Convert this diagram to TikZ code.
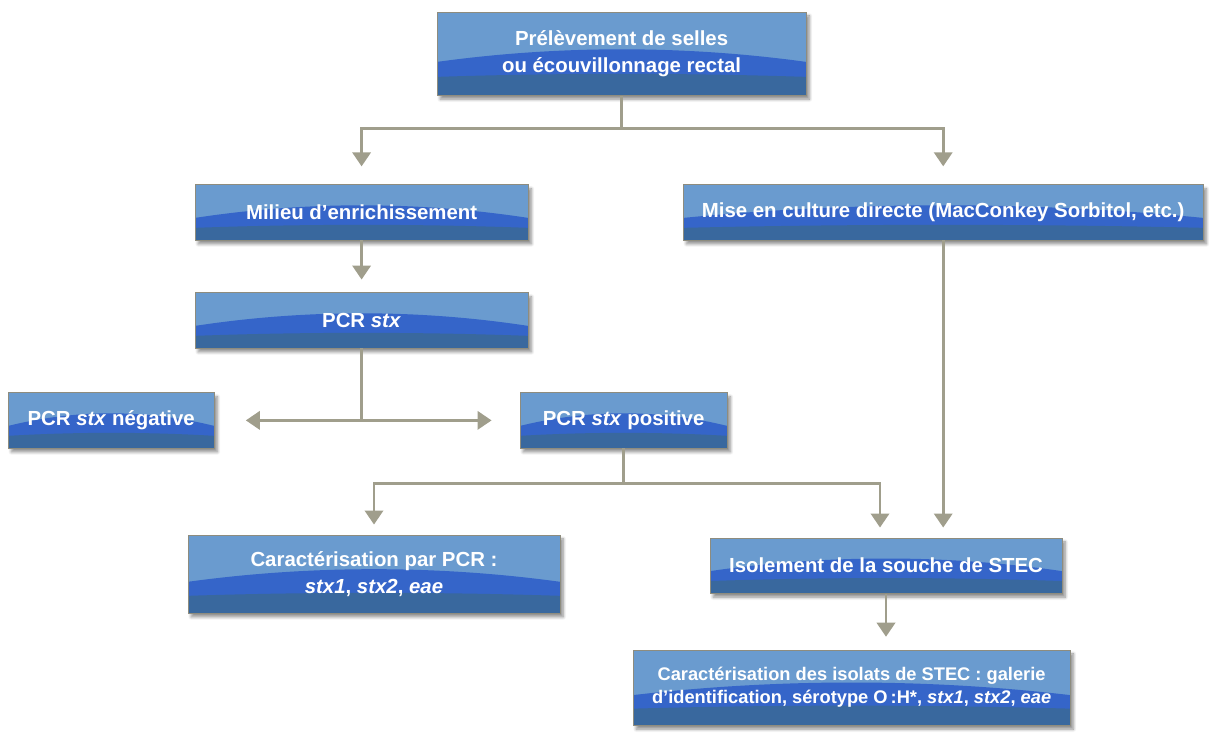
\documentclass[tikz,border=0pt]{standalone}
\usepackage{fontspec}
\setmainfont{Liberation Sans}
\usepackage{xcolor}
\usetikzlibrary{calc,arrows.meta,shadows.blur}

\definecolor{boxlight}{HTML}{6A9BCF}
\definecolor{boxband}{HTML}{3565C9}
\definecolor{boxbase}{HTML}{39689E}
\definecolor{boxedge}{HTML}{8E8C7E}
\definecolor{linkgray}{HTML}{A09E8C}

\tikzset{
  stepbox/.style={draw=boxedge, line width=0.6pt, fill=boxlight, text=white,
    font=\fontsize{14.5}{19.5}\selectfont\bfseries, align=center, inner sep=0pt,
    minimum height=1.38cm,
    blur shadow={shadow xshift=0.8mm, shadow yshift=-1mm, shadow blur steps=8, shadow opacity=45},
    path picture={
      \path (path picture bounding box.south west) coordinate (bsw)
            (path picture bounding box.north east) coordinate (bne);
      \path ($(bsw)!.4!(bsw|-bne)$) coordinate (bl)
            ($(bsw-|bne)!.4!(bne)$) coordinate (br)
            ($(bsw)!.22!(bsw|-bne)$) coordinate (dl)
            ($(bsw-|bne)!.22!(bne)$) coordinate (dr);
      \fill[boxband] (bl) .. controls ($(bl)!.33!(br)+(0,0.42)$) and ($(bl)!.67!(br)+(0,0.42)$) .. (br) |- (bsw) -- cycle;
      \fill[boxbase] (dl) .. controls ($(dl)!.33!(dr)+(0,0.1)$) and ($(dl)!.67!(dr)+(0,0.1)$) .. (dr) |- (bsw) -- cycle;
    }},
  link/.style={draw=linkgray, line width=2pt},
  arrow/.style={link, -{Triangle[width=13pt,length=10pt]}},
}

\begin{document}
\begin{tikzpicture}
\useasboundingbox (0,0) rectangle (30.275,18.4);
% boxes
\node[stepbox, minimum width=9.23cm, minimum height=2.08cm] (prelev) at (15.54,17.06) {Prélèvement de selles\\ou écouvillonnage rectal};
\node[stepbox, minimum width=8.33cm] (milieu) at (9.04,13.09) {Milieu d’enrichissement};
\node[stepbox, minimum width=13.0cm] (culture) at (23.58,13.09) {Mise en culture directe (MacConkey Sorbitol, etc.)};
\node[stepbox, minimum width=8.33cm] (pcr) at (9.04,10.39) {PCR \textit{stx}};
\node[stepbox, minimum width=5.15cm] (pcrneg) at (2.78,7.89) {PCR \textit{stx} négative};
\node[stepbox, minimum width=5.18cm] (pcrpos) at (15.59,7.89) {PCR \textit{stx} positive};
\node[stepbox, minimum width=9.3cm, minimum height=1.95cm] (carpcr) at (9.35,4.05) {Caractérisation par PCR :\\\textit{stx1}, \textit{stx2}, \textit{eae}};
\node[stepbox, minimum width=8.8cm] (isol) at (22.15,4.26) {Isolement de la souche de STEC};
\node[stepbox, minimum width=10.93cm, minimum height=1.88cm, font=\fontsize{13}{16.5}\selectfont\bfseries] (carisol) at (21.29,1.21) {Caractérisation des isolats de STEC : galerie\\d’identification, sérotype O\,:H*, \textit{stx1}, \textit{stx2}, \textit{eae}};
% connectors
\draw[link] (prelev.south) -- ++(0,-0.82) coordinate (split1);
\draw[arrow, shorten >=0.45cm] (split1) -| (milieu.north);
\draw[arrow, shorten >=0.45cm] (split1) -| (culture.north);
\draw[arrow, shorten >=0.32cm] (milieu.south) -- (pcr.north);
\draw[link] (pcr.south) -- (pcr.south |- pcrneg.east);
\draw[arrow, {Triangle[width=13pt,length=10pt]}-{Triangle[width=13pt,length=10pt]}, shorten <=0.78cm, shorten >=0.7cm] (pcrneg.east) -- (pcrpos.west);
\draw[link] (pcrpos.south) -- ++(0,-0.88) coordinate (split2);
\draw[arrow, shorten >=0.25cm] (split2) -| (carpcr.north);
\draw[arrow, shorten >=0.25cm] (split2) -| ($(isol.north)+(-0.15,0)$);
\draw[arrow, shorten >=0.25cm] (culture.south) -- (culture.south |- isol.north);
\draw[arrow, shorten >=0.32cm] (isol.south) -- (isol.south |- carisol.north);
\end{tikzpicture}
\end{document}
